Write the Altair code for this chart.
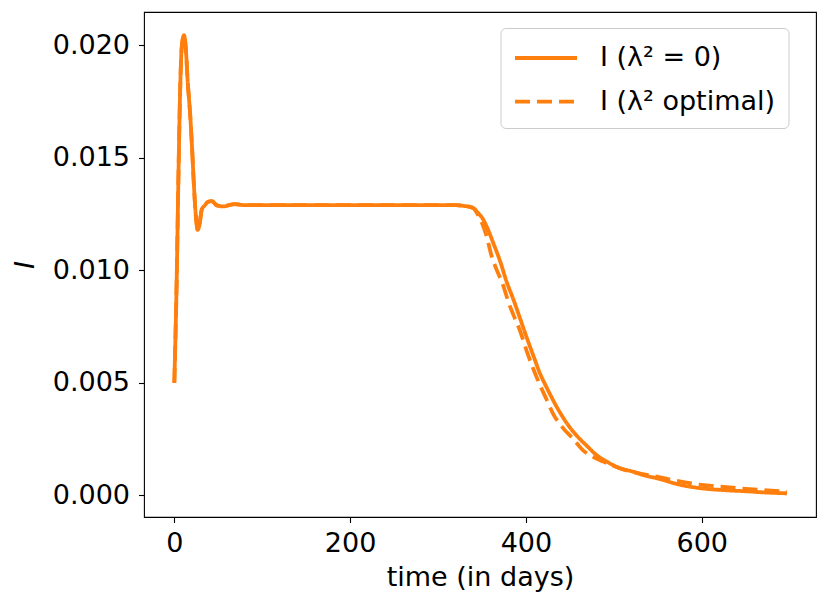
import altair as alt
import pandas as pd

series_names = ["I (λ² = 0)", "I (λ² optimal)"]

# shared early dynamics (days, I)
days_early = [0, 2.7, 4.6, 6.9, 8.4, 11.0, 13.2, 15.2, 17.9, 20.1, 22.0, 24.3, 26.6,
              28.5, 31.2, 34.9, 38.5, 42.6, 48, 55.8, 62, 69, 80, 100, 150, 200,
              250, 300, 320, 330, 336, 340.4]
I_early = [0.0050, 0.0096, 0.0140, 0.0184, 0.0199, 0.02045, 0.0198, 0.0184, 0.0170,
           0.0155, 0.0140, 0.0125, 0.0118, 0.0120, 0.0127, 0.0129, 0.01305, 0.01308,
           0.0129, 0.01284, 0.0129, 0.01294, 0.0129, 0.0129, 0.0129, 0.0129,
           0.0129, 0.0129, 0.0129, 0.01286, 0.01282, 0.01276]

# lambda^2 = 0, decline phase
days_zero = [345, 351.7, 357, 363, 370.7, 378, 385.8, 393, 401, 408.5, 416.2, 423.5,
             431.3, 440, 450.3, 459, 469.3, 480, 492, 507, 520, 535, 550, 575, 600,
             625, 650, 675, 697]
I_zero = [0.01258, 0.01224, 0.0118, 0.0112, 0.0104, 0.0095, 0.0087, 0.0079, 0.0070,
          0.0062, 0.0054, 0.0048, 0.0042, 0.0036, 0.0030, 0.0026, 0.0022, 0.0018,
          0.0015, 0.0012, 0.00107, 0.00088, 0.00075, 0.00047, 0.00031, 0.00023,
          0.00018, 0.00012, 0.00009]

# lambda^2 optimal, decline phase
days_opt = [345, 350, 355, 361.2, 367, 374.4, 380, 386, 393.4, 401, 408.6, 416, 423,
            431.3, 442, 454, 465, 476.8, 488, 500, 515, 530, 550, 575, 600, 625,
            650, 675, 697]
I_opt = [0.0125, 0.0121, 0.01155, 0.0106, 0.0100, 0.0093, 0.0086, 0.0080, 0.0073,
         0.0064, 0.0056, 0.0049, 0.0043, 0.0036, 0.0030, 0.0025, 0.0020, 0.0017,
         0.0015, 0.0013, 0.0011, 0.00097, 0.00082, 0.00062, 0.00046, 0.00037,
         0.00029, 0.00022, 0.00016]

x_ticks = [0, 200, 400, 600]
y_ticks = [0.0, 0.005, 0.010, 0.015, 0.020]

frames = []
for name, d_late, v_late in [(series_names[0], days_zero, I_zero),
                             (series_names[1], days_opt, I_opt)]:
    d = days_early + d_late
    v = I_early + v_late
    frames.append(pd.DataFrame({"day": d, "I": v, "series": name,
                                "order": list(range(len(d)))}))
df = pd.concat(frames, ignore_index=True)

FONT = "DejaVu Sans"
ORANGE = "#ff7f0e"
FS = 27

chart = alt.Chart(df).mark_line(
    strokeWidth=3.8, interpolate="monotone", clip=True
).encode(
    x=alt.X("day:Q",
            scale=alt.Scale(domain=[-34.5, 730], nice=False, zero=False),
            axis=alt.Axis(values=x_ticks, title="time (in days)", format="d",
                          labelPadding=8, titlePadding=8)),
    y=alt.Y("I:Q",
            scale=alt.Scale(domain=[-0.000964, 0.021484], nice=False, zero=False),
            axis=alt.Axis(values=y_ticks, title="I", format=".3f",
                          titleFontStyle="italic", labelPadding=9, titlePadding=13)),
    color=alt.Color("series:N",
                    scale=alt.Scale(domain=series_names, range=[ORANGE, ORANGE]),
                    legend=alt.Legend(title=None)),
    strokeDash=alt.StrokeDash("series:N",
                              scale=alt.Scale(domain=series_names, range=[[1, 0], [15, 7]]),
                              legend=alt.Legend(title=None)),
    order="order:Q",
).properties(
    width=672,
    height=505,
    autosize=alt.AutoSizeParams(type="none"),
    padding={"left": 136, "top": 4, "right": 6, "bottom": 80},
).configure_view(
    stroke="black", strokeWidth=1.1
).configure_axis(
    grid=False, domain=False, tickColor="black", tickSize=5.5, tickWidth=1.1,
    labelFont=FONT, labelFontSize=FS, labelColor="black",
    titleFont=FONT, titleFontSize=FS, titleFontWeight="normal", titleColor="black",
).configure_legend(
    orient="none", legendX=356.5, legendY=16,
    labelFont=FONT, labelFontSize=FS, labelColor="black", labelLimit=400,
    symbolType="M-1,0L3,0", symbolSize=961, symbolStrokeWidth=3.8,
    labelOffset=52, padding=12.5, rowPadding=12.6,
    strokeColor="#cccccc", fillColor="white", cornerRadius=5,
)

chart.save("out.html", embed_options={"renderer": "svg", "actions": False})
